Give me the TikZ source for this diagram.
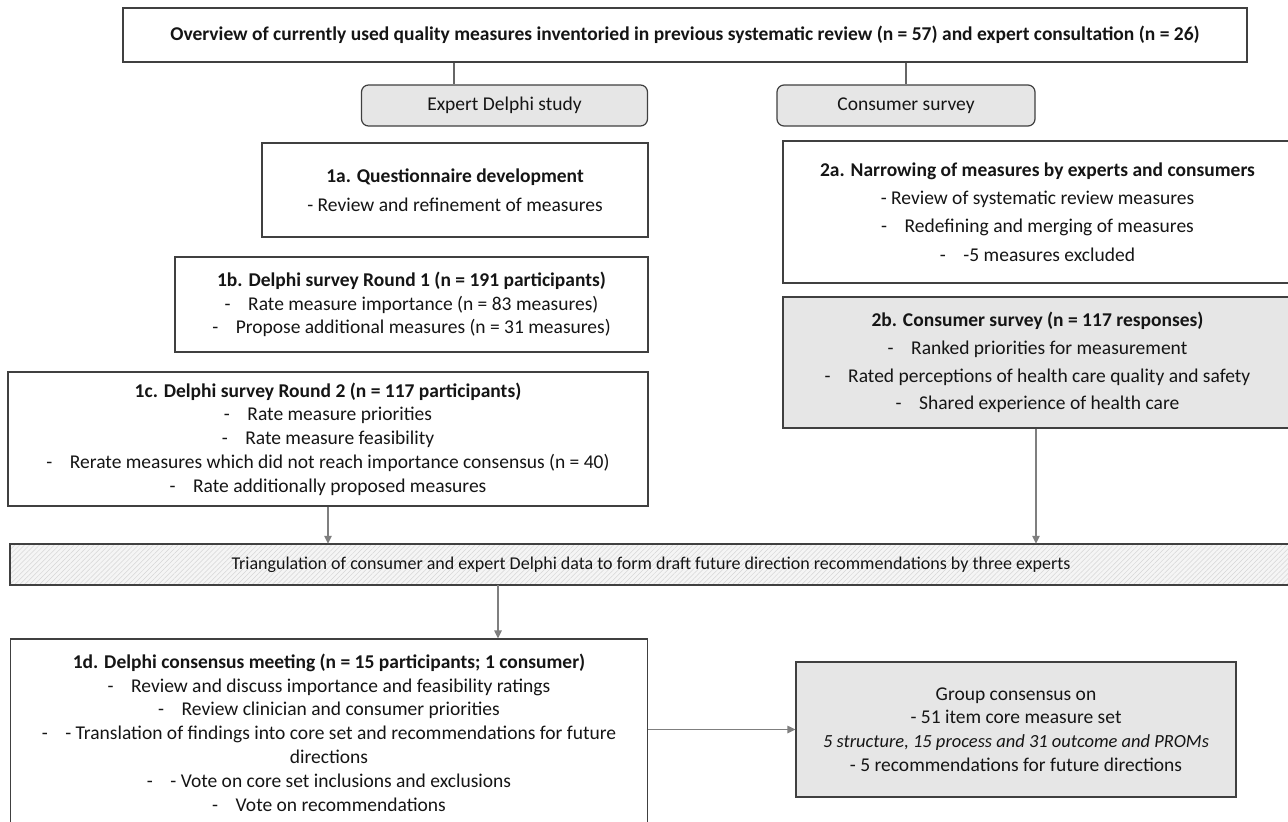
\documentclass[tikz,border=0pt]{standalone}
\usepackage{fontspec}
\setmainfont{Carlito}
\usetikzlibrary{arrows.meta,patterns.meta}
\definecolor{boxline}{HTML}{404040}
\definecolor{boxgray}{HTML}{E6E6E6}
\definecolor{arrgray}{HTML}{7F7F7F}
\definecolor{txt}{HTML}{151515}
\newcommand{\dd}{-\hspace{0.9em}}
\tikzset{
  box/.style={draw=boxline, line width=1.2pt, inner sep=0pt, align=center, text=txt,
    font=\fontsize{19.5}{23.8}\selectfont},
  graybox/.style={box, fill=boxgray},
  link/.style={draw=boxline!80, line width=1.1pt},
  arr/.style={draw=arrgray, line width=1.2pt, -{Triangle[length=8pt,width=7.5pt]}},
}
\begin{document}
\begin{tikzpicture}[x=1pt,y=-1pt]
\useasboundingbox (0,0) rectangle (1288,822);
\fill[white] (0,0) rectangle (1288,822);
\clip (0,0) rectangle (1288,822);

\node[box, minimum width=1124, minimum height=54, font=\fontsize{19.5}{23}\selectfont\bfseries] (top) at (685,35)
  {Overview of currently used quality measures inventoried in previous systematic review (n = 57) and expert consultation (n = 26)};

\node[graybox, rounded corners=7pt, minimum width=286, minimum height=41] (expert) at (504.5,105.5) {Expert Delphi study};
\node[graybox, rounded corners=7pt, minimum width=258, minimum height=41] (consumer) at (906,105.5) {Consumer survey};

\node[box, minimum width=386, minimum height=94, font=\fontsize{19.5}{29}\selectfont] (a1) at (455,190)
  {\textbf{1a. Questionnaire development}\\- Review and refinement of measures};

\node[box, minimum width=473, minimum height=95] (b1) at (411.5,304.5)
  {\textbf{1b. Delphi survey Round 1 (n = 191 participants)}\\\dd Rate measure importance (n = 83 measures)\\\dd Propose additional measures (n = 31 measures)};

\node[box, minimum width=509, minimum height=142, font=\fontsize{19.5}{28.3}\selectfont] (a2) at (1037.5,212)
  {\textbf{2a. Narrowing of measures by experts and consumers}\\- Review of systematic review measures\\\dd Redefining and merging of measures\\\dd -5 measures excluded};

\node[graybox, minimum width=509, minimum height=131, font=\fontsize{19.5}{27.7}\selectfont] (b2) at (1037.5,362.5)
  {\textbf{2b. Consumer survey (n = 117 responses)}\\\dd Ranked priorities for measurement\\\dd Rated perceptions of health care quality and safety\\\dd Shared experience of health care};

\node[box, minimum width=640, minimum height=134] (c1) at (328,439)
  {\textbf{1c. Delphi survey Round 2 (n = 117 participants)}\\\dd Rate measure priorities\\\dd Rate measure feasibility\\\dd Rerate measures which did not reach importance consensus (n = 40)\\\dd Rate additionally proposed measures};

\node[box, minimum width=1282, minimum height=41, font=\fontsize{18}{21}\selectfont,
  preaction={fill=black!4}, pattern={Lines[angle=45,distance=3.5pt,line width=0.5pt]}, pattern color=black!16] (bar) at (651,564.5)
  {Triangulation of consumer and expert Delphi data to form draft future direction recommendations by three experts};

\node[box, minimum width=637.5, minimum height=187] (d1) at (329,732.5)
  {\textbf{1d. Delphi consensus meeting (n = 15 participants; 1 consumer)}\\\dd Review and discuss importance and feasibility ratings\\\dd Review clinician and consumer priorities\\\dd - Translation of findings into core set and recommendations for future\\directions\\\dd - Vote on core set inclusions and exclusions\\\dd Vote on recommendations};

\node[graybox, minimum width=440, minimum height=135] (grp) at (1016,729.5)
  {Group consensus on\\- 51 item core measure set\\{\fontsize{18.5}{23.8}\selectfont\itshape 5 structure, 15 process and 31 outcome and PROMs}\\- 5 recommendations for future directions};

\coordinate (lx1) at (454,0);
\coordinate (lx3) at (498,0);
\draw[link] (top.south -| lx1) -- (expert.north -| lx1);
\draw[link] (top.south -| consumer.north) -- (consumer.north);
\draw[arr] (c1.south) -- (c1.south |- bar.north);
\draw[arr] ([xshift=-1.5pt]b2.south) -- ([xshift=-1.5pt]b2.south |- bar.north);
\draw[arr] (bar.south -| lx3) -- (d1.north -| lx3);
\draw[arr] (grp.west -| d1.east) -- (grp.west);
\end{tikzpicture}
\end{document}
